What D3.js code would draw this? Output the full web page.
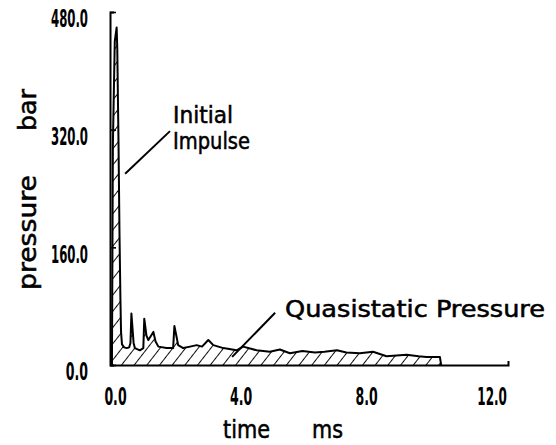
<!DOCTYPE html>
<html>
<head>
<meta charset="utf-8">
<script src="https://cdn.jsdelivr.net/npm/d3@7"></script>
<style>
  html, body { margin: 0; padding: 0; background: #fff; }
  svg { display: block; }
</style>
</head>
<body>
<div id="chart"></div>
<script>
// pressure trace
const timeMs = [0, 0.03, 0.06, 0.12, 0.18, 0.2, 0.24, 0.27, 0.3, 0.32, 0.35, 0.42, 0.5,
  0.58, 0.62, 0.65, 0.72, 0.76, 0.92, 1.03, 1.06, 1.13, 1.19, 1.35, 1.42, 1.51, 1.77,
  1.98, 2.02, 2.09, 2.14, 2.3, 2.52, 2.73, 2.9, 3.1, 3.26, 3.58, 4.0, 4.21, 4.64, 5.06,
  5.38, 5.7, 6.1, 6.5, 6.8, 7.2, 7.5, 7.93, 8.35, 8.78, 9.1, 9.42, 9.8, 10.05, 10.48, 10.52];
const pressureBar = [0, 0, 300, 440, 459, 430, 300, 180, 90, 45, 28, 24, 23,
  24, 30, 70, 30, 23, 20, 23, 63, 40, 34, 45, 32, 25, 23,
  23, 53, 38, 27, 23, 25, 27, 25, 34, 27, 23, 20, 25, 20, 18,
  21, 16, 19, 17, 18, 20, 17, 16, 18, 12, 13, 14, 12, 11, 11, 0];

const xTicks = [0, 4, 8, 12];
const yTicks = [0, 160, 320, 480];

// annotations: label lines and leader line ends [t, p]
const notes = [
  { lines: ['Initial', 'Impulse'], widths: [60, 77], from: [0.45, 260], to: [1.88, 318], tx: 173, ty: 123 },
  { lines: ['Quasistatic Pressure'], widths: [260], from: [3.86, 11], to: [5.23, 71], tx: 285, ty: 317 }
];

const W = 556, H = 445;
const FONT = '"DejaVu Sans Condensed", "DejaVu Sans", sans-serif';

const x = d3.scaleLinear().domain([0, 12.65]).range([111, 508]);
const y = d3.scaleLinear().domain([0, 480]).range([365, 12]);

const data = timeMs.map((t, i) => ({ t: t, p: pressureBar[i] }));

const svg = d3.select('#chart').append('svg')
  .attr('width', W)
  .attr('height', H)
  .attr('font-family', FONT);

// hatching for the area under the trace
svg.append('defs').append('pattern')
  .attr('id', 'hatch')
  .attr('patternUnits', 'userSpaceOnUse')
  .attr('width', 10)
  .attr('height', 10)
  .attr('patternTransform', 'rotate(38)')
  .append('line')
  .attr('x1', 0).attr('y1', 0)
  .attr('x2', 0).attr('y2', 10)
  .attr('stroke', '#000')
  .attr('stroke-width', 1.9);

const area = d3.area()
  .x(d => x(d.t))
  .y0(y(0))
  .y1(d => y(d.p));

const line = d3.line()
  .x(d => x(d.t))
  .y(d => y(d.p));

svg.append('path')
  .datum(data)
  .attr('d', area)
  .attr('fill', 'url(#hatch)');

svg.append('path')
  .datum(data)
  .attr('d', line)
  .attr('fill', 'none')
  .attr('stroke', '#000')
  .attr('stroke-width', 2)
  .attr('stroke-linejoin', 'round');

// tick labels are tall and squeezed, like the plotter font
const fmt = d3.format('.1f');
const squeeze = s => s.length * 7.4;

const gx = svg.append('g')
  .attr('transform', `translate(0,${y(0)})`)
  .call(d3.axisBottom(x)
    .tickValues(xTicks)
    .tickSizeInner(0)
    .tickSizeOuter(-4)
    .tickPadding(23)
    .tickFormat(fmt));

const gy = svg.append('g')
  .attr('transform', `translate(${x(0) - 1},0)`)
  .call(d3.axisLeft(y)
    .tickValues(yTicks)
    .tickSizeInner(-6)
    .tickSizeOuter(-4)
    .tickPadding(22)
    .tickFormat(fmt));

[gx, gy].forEach(g => {
  g.select('.domain').attr('stroke-width', 2);
  g.selectAll('.tick line').attr('stroke-width', 1.6);
  g.selectAll('.tick text')
    .attr('font-family', FONT)
    .attr('font-weight', 'bold')
    .attr('font-size', 24)
    .attr('fill', '#000')
    .attr('textLength', d => squeeze(fmt(d)))
    .attr('lengthAdjust', 'spacingAndGlyphs');
});
gx.selectAll('.tick text').attr('dx', 4);
gy.selectAll('.tick text').attr('dy', '0.62em').attr('x', -22);

// plain labels, a bit heavier like the pen strokes
const label = (sel, size, len) => sel
  .attr('font-size', size)
  .attr('stroke', '#000')
  .attr('stroke-width', 0.5)
  .attr('textLength', len)
  .attr('lengthAdjust', 'spacingAndGlyphs');

// axis titles
svg.append('text')
  .attr('transform', 'translate(36,290) rotate(-90)')
  .call(label, 24, 115)
  .text('pressure');
svg.append('text')
  .attr('transform', 'translate(36,131) rotate(-90)')
  .call(label, 24, 42)
  .text('bar');
svg.append('text')
  .attr('x', 223).attr('y', 438)
  .call(label, 24, 47)
  .text('time');
svg.append('text')
  .attr('x', 312).attr('y', 438)
  .call(label, 24, 31)
  .text('ms');

// annotations
const gn = svg.append('g').selectAll('g').data(notes).join('g');
gn.append('line')
  .attr('x1', d => x(d.from[0])).attr('y1', d => y(d.from[1]))
  .attr('x2', d => x(d.to[0])).attr('y2', d => y(d.to[1]))
  .attr('stroke', '#000')
  .attr('stroke-width', 2);
gn.each(function(d) {
  d3.select(this).selectAll('text')
    .data(d.lines)
    .join('text')
    .attr('x', d.tx)
    .attr('y', (s, i) => d.ty + i * 26)
    .call(label, 23, (s, i) => d.widths[i])
    .text(s => s);
});
</script>
</body>
</html>
